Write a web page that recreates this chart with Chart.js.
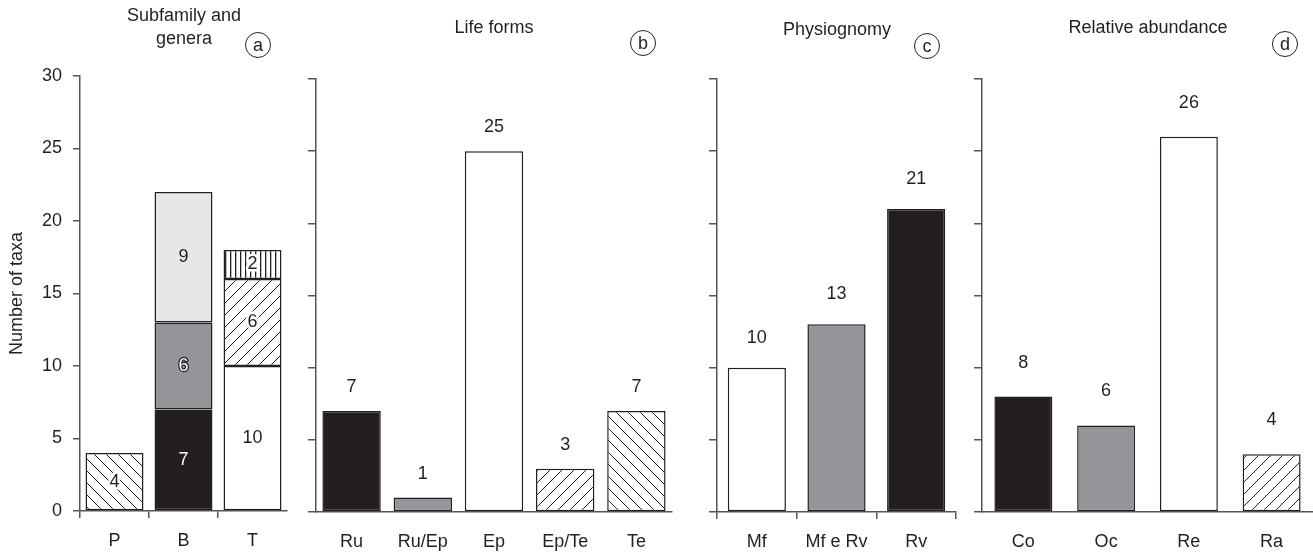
<!DOCTYPE html>
<html>
<head>
<meta charset="utf-8">
<script src="https://cdn.jsdelivr.net/npm/chart.js@4.4.0/dist/chart.umd.min.js"></script>
<style>
    body { margin: 0; background: #fff; }
    #wrap { position: relative; width: 1313px; height: 552px; }
    canvas { position: absolute; top: 0; }
</style>
</head>
<body>
<div id="wrap">
    <canvas id="chartA" width="300" height="552" style="left:0"></canvas>
    <canvas id="chartB" width="380" height="552" style="left:300px"></canvas>
    <canvas id="chartC" width="280" height="552" style="left:690px"></canvas>
    <canvas id="chartD" width="343" height="552" style="left:970px"></canvas>
</div>
<script>
// Data
const subfamilyCats = ['P', 'B', 'T'];
const subfamilyLayer1 = [4, 7, 10];
const subfamilyLayer2 = [null, 6, 6];
const subfamilyLayer3 = [null, 9, 2];

const lifeFormCats = ['Ru', 'Ru/Ep', 'Ep', 'Ep/Te', 'Te'];
const lifeFormValues = [7, 1, 25, 3, 7];

const physioCats = ['Mf', 'Mf e Rv', 'Rv'];
const physioValues = [10, 13, 21];

const abundanceCats = ['Co', 'Oc', 'Re', 'Ra'];
const abundanceValues = [8, 6, 26, 4];

const yMin = 0, yMax = 30, yStep = 5;

// Styles
const BLACK = '#231f20';
const GREY = '#939598';
const LIGHT = '#e6e7e8';
const WHITE = '#ffffff';
const AXIS = '#555555';
const FONT = { family: "'Liberation Sans', Arial, sans-serif", size: 18 };
const FONT_CSS = "18px 'Liberation Sans', Arial, sans-serif";

function makeHatch(dir, size) {
    const c = document.createElement('canvas');
    c.width = size; c.height = size;
    const g = c.getContext('2d');
    g.fillStyle = WHITE;
    g.fillRect(0, 0, size, size);
    g.strokeStyle = BLACK;
    g.lineWidth = 1;
    g.beginPath();
    if (dir === 'fwd') {
        g.moveTo(-1, size + 1); g.lineTo(size + 1, -1);
        g.moveTo(-1, 1); g.lineTo(1, -1);
        g.moveTo(size - 1, size + 1); g.lineTo(size + 1, size - 1);
    } else {
        g.moveTo(-1, -1); g.lineTo(size + 1, size + 1);
        g.moveTo(size - 1, -1); g.lineTo(size + 1, 1);
        g.moveTo(-1, size - 1); g.lineTo(1, size + 1);
    }
    g.stroke();
    return g.createPattern(c, 'repeat');
}

function makeStripes(size) {
    const c = document.createElement('canvas');
    c.width = size; c.height = size;
    const g = c.getContext('2d');
    g.fillStyle = WHITE;
    g.fillRect(0, 0, size, size);
    g.fillStyle = BLACK;
    g.fillRect(0, 0, 1.3, size);
    return g.createPattern(c, 'repeat');
}

const hatchBack = makeHatch('back', 12);
const hatchFwd = makeHatch('fwd', 12);
const stripes = makeStripes(5);

// Plugins
const valueLabels = {
    id: 'valueLabels',
    afterDatasetsDraw(chart, args, opts) {
        const ctx = chart.ctx;
        ctx.save();
        ctx.font = FONT_CSS;
        ctx.textAlign = 'center';
        ctx.textBaseline = 'middle';
        ctx.lineJoin = 'round';
        chart.data.datasets.forEach((ds, di) => {
            chart.getDatasetMeta(di).data.forEach((bar, i) => {
                const v = ds.data[i];
                if (v == null) return;
                const fill = Array.isArray(ds.backgroundColor) ? ds.backgroundColor[i] : ds.backgroundColor;
                const text = String(v);
                if (!opts.inside) {
                    ctx.fillStyle = BLACK;
                    ctx.fillText(text, bar.x, bar.y - opts.gap);
                    return;
                }
                const y = (bar.y + bar.base) / 2;
                if (fill === BLACK || fill === GREY) {
                    ctx.lineWidth = 2.5;
                    ctx.strokeStyle = BLACK;
                    ctx.strokeText(text, bar.x, y);
                    ctx.fillStyle = WHITE;
                } else if (typeof fill !== 'string') {
                    ctx.lineWidth = 5;
                    ctx.strokeStyle = WHITE;
                    ctx.strokeText(text, bar.x, y);
                    ctx.fillStyle = BLACK;
                } else {
                    ctx.fillStyle = BLACK;
                }
                ctx.fillText(text, bar.x, y);
            });
        });
        ctx.restore();
    }
};

const panelHeader = {
    id: 'panelHeader',
    afterDraw(chart, args, opts) {
        const ctx = chart.ctx;
        ctx.save();
        ctx.font = FONT_CSS;
        ctx.fillStyle = BLACK;
        ctx.textAlign = 'center';
        ctx.textBaseline = 'middle';
        opts.lines.forEach((t, k) => ctx.fillText(t, opts.x, opts.y + k * 23));
        ctx.beginPath();
        ctx.arc(opts.cx, opts.cy, 12.5, 0, 2 * Math.PI);
        ctx.lineWidth = 1;
        ctx.strokeStyle = BLACK;
        ctx.stroke();
        ctx.fillText(opts.letter, opts.cx, opts.cy + 1);
        ctx.restore();
    }
};

// Scale builders
function yAxis(width, showLabels, tickLength) {
    return {
        min: yMin,
        max: yMax,
        ticks: { display: showLabels, stepSize: yStep, padding: 11, color: BLACK, font: FONT },
        grid: { drawOnChartArea: false, tickLength: tickLength, color: AXIS, lineWidth: 1.5 },
        border: { color: AXIS, width: 1.5 },
        afterFit(scale) { scale.width = width; }
    };
}

function xAxis(height, showTicks, lastTick) {
    return {
        offset: true,
        ticks: { color: BLACK, font: FONT, padding: 12, maxRotation: 0, autoSkip: false },
        grid: {
            display: showTicks,
            drawOnChartArea: false,
            tickLength: 7,
            lineWidth: 1.5,
            offset: true,
            tickColor: (c) => (c.index === undefined && !lastTick) ? 'rgba(0,0,0,0)' : AXIS
        },
        border: { color: AXIS, width: 1.5 },
        afterFit(scale) { scale.height = height; }
    };
}

function barDataset(values, fills, pct) {
    return {
        data: values,
        backgroundColor: fills,
        borderColor: BLACK,
        borderWidth: 1.5,
        borderSkipped: false,
        barPercentage: pct,
        categoryPercentage: 1
    };
}

function baseOptions(padding, x, y, header, labels) {
    return {
        responsive: false,
        animation: false,
        layout: { padding: padding },
        scales: { x: x, y: y },
        plugins: {
            legend: { display: false },
            tooltip: { enabled: false },
            panelHeader: header,
            valueLabels: labels
        }
    };
}

// Panel a: stacked subfamily and genera
const yA = yAxis(80, true, 7);
yA.stacked = true;
yA.title = { display: true, text: 'Number of taxa', color: BLACK, font: FONT, padding: { top: 6 } };
const xA = xAxis(41, true, false);
xA.stacked = true;

new Chart(document.getElementById('chartA'), {
    type: 'bar',
    data: {
        labels: subfamilyCats,
        datasets: [
            barDataset(subfamilyLayer1, [hatchBack, BLACK, WHITE], 0.84),
            barDataset(subfamilyLayer2, [WHITE, GREY, hatchFwd], 0.84),
            barDataset(subfamilyLayer3, [WHITE, LIGHT, stripes], 0.84)
        ]
    },
    options: baseOptions({ top: 76, right: 13 }, xA, yA,
        { lines: ['Subfamily and', 'genera'], x: 184, y: 16, cx: 258, cy: 45, letter: 'a' },
        { inside: true }),
    plugins: [valueLabels, panelHeader]
});

// Panel b: life forms
new Chart(document.getElementById('chartB'), {
    type: 'bar',
    data: {
        labels: lifeFormCats,
        datasets: [barDataset(lifeFormValues, [BLACK, GREY, WHITE, hatchFwd, hatchBack], 0.82)]
    },
    options: baseOptions({ top: 79, right: 8 }, xAxis(40, false, true), yAxis(16, false, 8),
        { lines: ['Life forms'], x: 194, y: 28, cx: 343, cy: 43, letter: 'b' },
        { inside: false, gap: 24 }),
    plugins: [valueLabels, panelHeader]
});

// Panel c: physiognomy
new Chart(document.getElementById('chartC'), {
    type: 'bar',
    data: {
        labels: physioCats,
        datasets: [barDataset(physioValues, [WHITE, GREY, BLACK], 0.73)]
    },
    options: baseOptions({ top: 79, right: 14 }, xAxis(40, true, true), yAxis(27, false, 8),
        { lines: ['Physiognomy'], x: 147, y: 30, cx: 237, cy: 46, letter: 'c' },
        { inside: false, gap: 30 }),
    plugins: [valueLabels, panelHeader]
});

// Panel d: relative abundance
new Chart(document.getElementById('chartD'), {
    type: 'bar',
    data: {
        labels: abundanceCats,
        datasets: [barDataset(abundanceValues, [BLACK, GREY, WHITE, hatchFwd], 0.70)]
    },
    options: baseOptions({ top: 79, right: 0 }, xAxis(40, false, true), yAxis(12, false, 8),
        { lines: ['Relative abundance'], x: 178, y: 28, cx: 315, cy: 44, letter: 'd' },
        { inside: false, gap: 34 }),
    plugins: [valueLabels, panelHeader]
});
</script>
</body>
</html>
